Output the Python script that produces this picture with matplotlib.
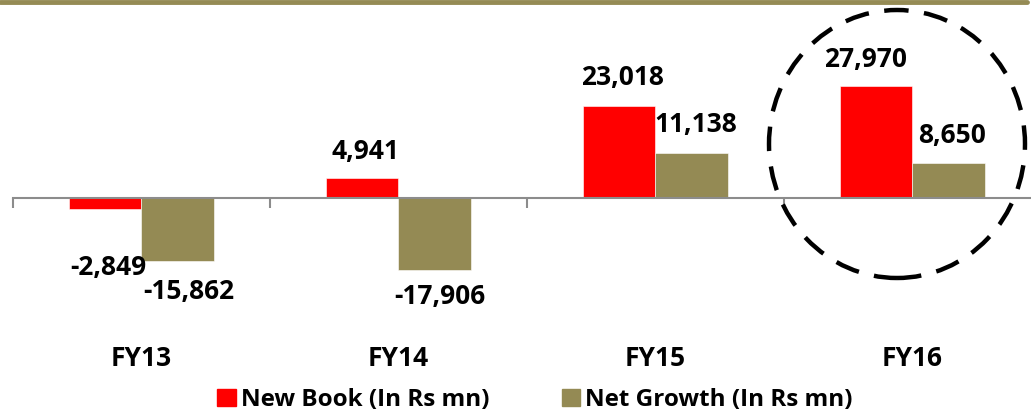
import matplotlib.pyplot as plt
import numpy as np
from matplotlib.patches import Ellipse, Patch

# Data
years = ['FY13', 'FY14', 'FY15', 'FY16']
new_book = [-2849, 4941, 23018, 27970]
net_growth = [-15862, -17906, 11138, 8650]

red = '#FF0000'
olive = '#948A54'
grey = '#8C8C8C'

plt.rcParams['font.family'] = ['Open Sans', 'DejaVu Sans']
plt.rcParams['font.weight'] = 'bold'

W, H = 1031, 413
fig = plt.figure(figsize=(W / 100, H / 100), dpi=100)

# axes placed in pixel terms: top at y=20, bottom at y=300, zero line at y=198
ax = fig.add_axes([13 / W, 1 - 300 / H, 1018 / W, 280 / H])
ax.set_ylim(-(300 - 198) * 250, (198 - 20) * 250)
ax.set_xlim(-0.5, -0.5 + 1018 / 257)

x = np.arange(len(years))
width = 0.284
ax.bar(x - width / 2, new_book, width=width, color=red, edgecolor='white', linewidth=0.4, zorder=2)
ax.bar(x + width / 2, net_growth, width=width, color=olive, edgecolor='white', linewidth=0.4, zorder=2)

for s in ['top', 'left', 'right']:
    ax.spines[s].set_visible(False)
ax.spines['bottom'].set_position(('data', 0))
ax.spines['bottom'].set_color(grey)
ax.spines['bottom'].set_linewidth(1.5)
ax.spines['bottom'].set_zorder(3)
ax.set_yticks([])
ax.set_xticks(np.arange(len(years)) - 0.5)
ax.set_xticklabels([])
ax.tick_params(axis='x', direction='out', length=7, width=1.5, color=grey)

# data labels (pixel offsets from the bar end)
red_off = [(3, -58), (3, 27), (3, 28), (-10, 27)]
olive_off = [(11, -30), (5, -27), (4, 29), (3, 28)]
for i in range(len(years)):
    for val, xc, (dx, dy) in [(new_book[i], x[i] - width / 2, red_off[i]),
                              (net_growth[i], x[i] + width / 2, olive_off[i])]:
        ax.annotate(f'{val:,}', (xc, val), xytext=(dx, dy), textcoords='offset pixels',
                    ha='center', va='center', fontsize=19, fontweight='bold', color='black')
    ax.annotate(years[i], (x[i], 0), xytext=(0, -161), textcoords='offset pixels',
                ha='center', va='center', fontsize=19, fontweight='bold', color='black',
                annotation_clip=False)

# dashed highlight around FY16
fig.patches.append(Ellipse((897 / W, 1 - 144 / H), 256 / W, 268 / H, transform=fig.transFigure,
                           fill=False, edgecolor='black', lw=3.2, linestyle=(0, (5.5, 3.5))))

# header rule
fig.add_artist(plt.Line2D([0, 1027 / W], [1 - 2 / H, 1 - 2 / H], transform=fig.transFigure,
                          color='#958B55', lw=3.5, solid_capstyle='round'))

handles = [Patch(color=red, label='New Book (In Rs mn)'),
           Patch(color=olive, label='Net Growth (In Rs mn)')]
fig.legend(handles=handles, loc='center', bbox_to_anchor=(535 / W, 1 - 400 / H), ncol=2,
           frameon=False, prop={'size': 17.5, 'weight': 'bold'}, handlelength=0.75, handleheight=0.75,
           handletextpad=0.2, columnspacing=3.0, borderpad=0)

fig.savefig('out.png', dpi=100)
